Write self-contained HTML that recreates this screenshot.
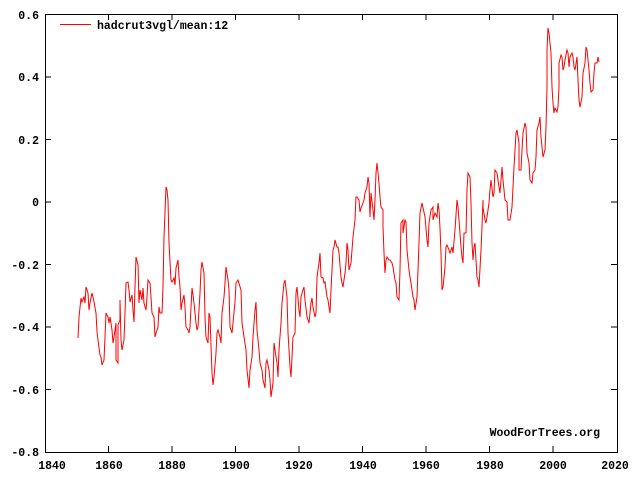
<!DOCTYPE html>
<html><head><style>
html,body{margin:0;padding:0;background:#fff;}
svg{display:block;}
text{font-family:"Liberation Mono","DejaVu Sans Mono",monospace;font-weight:bold;font-size:11.5px;fill:#000;}
</style></head><body>
<svg width="640" height="480" viewBox="0 0 640 480" xmlns="http://www.w3.org/2000/svg">
<rect x="45.5" y="14.5" width="572" height="438" fill="none" stroke="#000" stroke-width="1"/>
<g stroke="#000" stroke-width="1">
<path d="M45 14.5h6M45 77h6M45 139.5h6M45 202h6M45 264.5h6M45 327h6M45 389.5h6M617 14.5h-6M617 77h-6M617 139.5h-6M617 202h-6M617 264.5h-6M617 327h-6M617 389.5h-6"/>
<path d="M108.5 452v-6M172 452v-6M235.5 452v-6M299 452v-6M362.5 452v-6M426 452v-6M489.5 452v-6M553 452v-6M108.5 14v6M172 14v6M235.5 14v6M299 14v6M362.5 14v6M426 14v6M489.5 14v6M553 14v6"/>
</g>
<g text-anchor="end">
<text x="39" y="19">0.6</text><text x="39" y="81">0.4</text><text x="39" y="144">0.2</text><text x="39" y="206">0</text>
<text x="39" y="269">-0.2</text><text x="39" y="331">-0.4</text><text x="39" y="394">-0.6</text><text x="39" y="456">-0.8</text>
</g>
<g text-anchor="middle">
<text x="52" y="469">1840</text><text x="109" y="469">1860</text><text x="172" y="469">1880</text><text x="236" y="469">1900</text>
<text x="299" y="469">1920</text><text x="363" y="469">1940</text><text x="426" y="469">1960</text><text x="490" y="469">1980</text>
<text x="553" y="469">2000</text><text x="615" y="469">2020</text>
</g>
<line x1="60" y1="24.5" x2="91" y2="24.5" stroke="#f00" stroke-width="1"/>
<text x="97" y="29">hadcrut3vgl/mean:12</text>
<text x="600" y="436" text-anchor="end">WoodForTrees.org</text>
<polyline fill="none" stroke="#f00" stroke-width="1" points="78,338 79,317 81,298 82,302 84,297 85,303 86,287 88,293 89,310 90,303 92,293 93,297 94,302 96,313 97,332 98,340 100,355 101,357 102,365 104,360 105,337 106,313 108,317 109,323 110,317 112,330 113,343 114,337 116,323 116,360 118,363 118,325 120,320 120,300 121,340 122,350 124,340 125,313 126,283 128,282 129,290 130,302 132,295 133,310 134,322 135,287 136,257 138,265 139,303 140,290 142,300 143,288 144,303 146,310 147,297 148,280 150,283 151,297 152,313 154,317 155,337 156,333 158,327 159,307 160,313 162,313 163,287 164,237 166,187 167,190 168,200 169,243 170,262 171,280 172,282 174,278 175,285 176,268 178,260 179,277 180,287 181,310 182,303 184,295 185,307 186,327 188,330 189,333 190,327 192,288 193,295 194,303 196,323 197,330 198,327 200,293 201,270 202,262 204,273 205,317 206,337 208,343 209,313 210,317 212,373 213,385 214,377 216,353 217,333 218,330 220,337 221,343 222,313 224,297 225,283 226,267 228,280 229,290 230,327 232,333 233,323 235,302 236,283 238,280 241,290 242,323 244,337 246,350 247,370 249,388 250,370 252,357 253,337 255,310 256,302 257,330 259,350 260,363 262,370 263,380 265,388 266,363 267,360 269,370 270,380 271,397 273,383 274,343 275,350 277,363 278,377 279,350 281,323 282,303 284,283 285,280 287,297 288,333 290,367 291,377 292,357 293,337 295,333 296,293 297,287 299,310 300,317 301,297 303,290 304,287 305,300 307,317 308,320 309,323 311,303 312,298 313,307 315,317 316,313 317,277 319,263 320,253 321,277 323,278 324,283 325,282 327,297 328,300 329,307 330,313 331,290 333,250 334,247 335,240 337,247 338,247 339,253 341,277 342,283 343,287 345,273 346,263 347,243 348,250 349,270 351,263 352,250 353,237 355,220 356,197 357,197 359,200 360,212 361,208 363,203 364,200 365,193 367,187 368,177 369,183 370,217 371,193 373,210 374,220 375,200 376,173 377,163 379,183 380,197 381,207 383,210 383,227 384,253 385,273 386,260 387,257 389,260 390,260 392,263 393,267 395,280 396,283 397,297 399,300 400,270 401,223 403,220 403,233 405,220 406,222 407,250 409,270 410,277 411,283 413,297 414,300 415,310 417,297 418,270 419,243 420,213 422,203 425,217 427,240 428,247 429,223 431,210 433,207 433,220 435,213 437,217 438,203 439,210 440,228 441,253 442,290 443,287 445,267 446,247 447,245 449,250 450,253 452,247 453,253 455,230 457,200 458,207 459,220 461,247 462,257 463,263 464,233 466,233 467,190 468,173 470,177 471,203 472,243 473,260 474,247 475,243 477,277 478,280 479,287 481,250 482,227 483,200 483,207 485,220 486,223 487,217 489,203 490,190 491,180 493,197 494,193 495,170 497,173 499,187 500,193 502,167 503,180 504,190 505,200 507,202 508,220 510,220 512,207 513,187 514,167 516,133 517,130 519,143 519,170 521,170 522,150 523,133 525,123 526,127 527,153 529,163 530,180 532,183 533,173 535,170 536,157 537,130 539,123 540,117 541,137 542,147 543,157 545,150 546,127 547,87 547,50 548,28 549,33 550,43 551,53 552,87 553,103 554,113 555,108 557,112 558,107 559,87 559,63 561,55 562,57 563,70 564,67 565,60 567,50 568,53 569,67 570,57 572,53 573,57 574,67 575,70 577,57 578,80 579,100 580,107 582,97 583,73 585,63 586,47 587,50 589,70 590,83 591,92 593,90 594,73 595,63 597,63 598,57 599,62"/>
</svg>
</body></html>
